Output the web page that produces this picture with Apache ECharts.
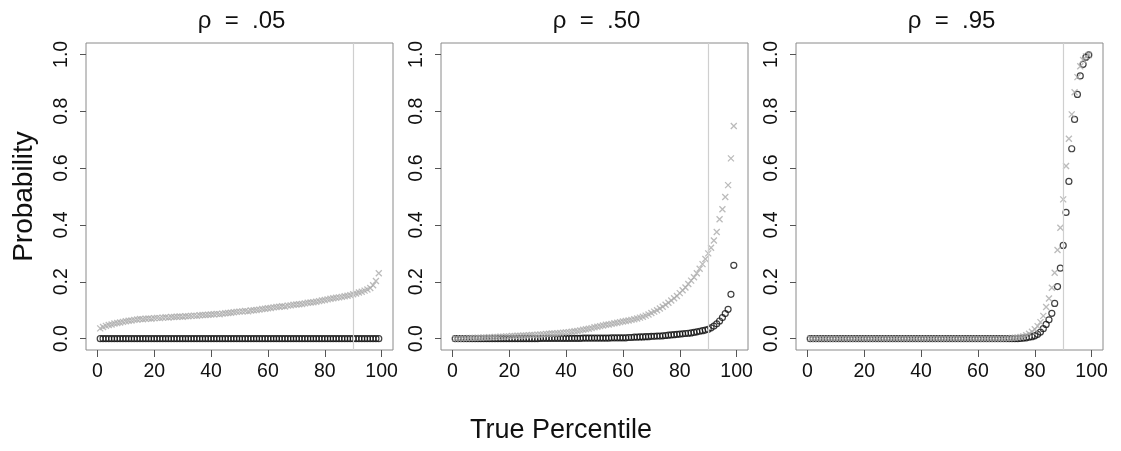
<!DOCTYPE html>
<html>
<head>
<meta charset="utf-8">
<script src="https://cdn.jsdelivr.net/npm/echarts@6/dist/echarts.min.js"></script>
<style>
  html, body { margin: 0; padding: 0; background: #fff; }
  #chart { width: 1121px; height: 451px; }
</style>
</head>
<body>
<div id="chart"></div>
<script>
// true percentile of each point
const percentile = [
  1,2,3,4,5,6,7,8,9,10,11,12,13,14,15,16,17,18,19,20,
  21,22,23,24,25,26,27,28,29,30,31,32,33,34,35,36,37,38,39,40,
  41,42,43,44,45,46,47,48,49,50,51,52,53,54,55,56,57,58,59,60,
  61,62,63,64,65,66,67,68,69,70,71,72,73,74,75,76,77,78,79,80,
  81,82,83,84,85,86,87,88,89,90,91,92,93,94,95,96,97,98,99
]
const panelTitles = ['ρ  =  .05', 'ρ  =  .50', 'ρ  =  .95']
const xTicks = [0, 20, 40, 60, 80, 100]
const yTicks = [0, 0.2, 0.4, 0.6, 0.8, 1.0]
const cutoff = 90

// gray crosses
const cross05 = [
  .036,.041,.045,.048,.050,.053,.055,.057,.059,.061,
  .063,.064,.066,.067,.069,.068,.070,.071,.070,.072,
  .073,.072,.074,.075,.074,.076,.076,.077,.078,.077,
  .079,.079,.080,.081,.080,.082,.083,.083,.084,.085,
  .086,.087,.086,.088,.089,.090,.091,.093,.094,.095,
  .096,.097,.096,.099,.100,.101,.102,.104,.105,.107,
  .108,.110,.111,.112,.114,.113,.116,.117,.119,.120,
  .121,.122,.124,.126,.127,.128,.130,.132,.134,.136,
  .138,.140,.142,.144,.145,.147,.149,.151,.153,.156,
  .159,.162,.165,.169,.173,.178,.188,.203,.230
]
const cross50 = [
  .000,.000,.001,.001,.001,.002,.002,.002,.003,.003,
  .004,.004,.005,.005,.006,.006,.007,.007,.008,.008,
  .009,.009,.010,.010,.011,.011,.012,.013,.013,.014,
  .015,.015,.016,.017,.018,.018,.019,.020,.021,.022,
  .023,.024,.026,.027,.029,.031,.033,.035,.037,.040,
  .042,.044,.046,.049,.050,.052,.054,.056,.058,.060,
  .062,.064,.066,.068,.071,.074,.077,.081,.085,.090,
  .095,.100,.106,.112,.119,.126,.134,.142,.150,.160,
  .170,.180,.192,.204,.216,.230,.246,.262,.280,.300,
  .320,.345,.375,.420,.455,.498,.540,.634,.748
]
const cross95 = [
  0,0,0,0,0,0,0,0,0,0,
  0,0,0,0,0,0,0,0,0,0,
  0,0,0,0,0,0,0,0,0,0,
  0,0,0,0,0,0,0,0,0,0,
  0,0,0,0,0,0,0,0,0,0,
  0,0,0,0,0,0,0,0,0,0,
  0,0,0,0,0,0,0,0,0,.001,
  .001,.002,.003,.004,.006,.008,.012,.017,.024,.033,
  .044,.058,.080,.111,.141,.179,.232,.312,.390,.490,
  .607,.703,.789,.867,.920,.958,.980,.993,.998
]

// black open circles
const circle05 = [
  0,0,0,0,0,0,0,0,0,0,
  0,0,0,0,0,0,0,0,0,0,
  0,0,0,0,0,0,0,0,0,0,
  0,0,0,0,0,0,0,0,0,0,
  0,0,0,0,0,0,0,0,0,0,
  0,0,0,0,0,0,0,0,0,0,
  0,0,0,0,0,0,0,0,0,0,
  0,0,0,0,0,0,0,0,0,0,
  0,0,0,0,0,0,0,0,0,0,
  0,0,0,0,0,0,0,0,0
]
const circle50 = [
  0,0,0,0,0,0,0,0,0,0,
  0,0,0,0,0,0,0,0,0,0,
  0,0,0,0,0,0,0,0,0,0,
  .001,.001,.001,.001,.001,.001,.001,.001,.001,.001,
  .001,.001,.001,.001,.001,.002,.002,.002,.002,.002,
  .002,.002,.002,.002,.002,.003,.003,.003,.003,.003,
  .003,.004,.004,.005,.005,.006,.006,.007,.007,.008,
  .008,.009,.009,.010,.011,.012,.013,.014,.015,.016,
  .017,.018,.019,.020,.022,.024,.026,.028,.030,.033,
  .038,.044,.052,.062,.074,.088,.103,.156,.258
]
const circle95 = [
  0,0,0,0,0,0,0,0,0,0,
  0,0,0,0,0,0,0,0,0,0,
  0,0,0,0,0,0,0,0,0,0,
  0,0,0,0,0,0,0,0,0,0,
  0,0,0,0,0,0,0,0,0,0,
  0,0,0,0,0,0,0,0,0,0,
  0,0,0,0,0,0,0,0,0,0,
  0,0,0,0,.001,.002,.003,.005,.007,.010,
  .015,.023,.035,.050,.066,.089,.124,.183,.248,.328,
  .444,.553,.668,.771,.859,.924,.965,.990,.998
]

const crossSets = [cross05, cross50, cross95]
const circleSets = [circle05, circle50, circle95]

const FONT = '"Liberation Sans", Arial, Helvetica, sans-serif'
const panelLefts = [86, 441, 796]
const panelW = 307

const chart = echarts.init(document.getElementById('chart'))

const grid = [], xAxis = [], yAxis = [], series = [], graphic = []

panelLefts.forEach((left, i) => {
  grid.push({ left, top: 43, width: panelW, height: 307, show: true, borderColor: '#8a8a8a', borderWidth: 1, backgroundColor: 'transparent' })
  xAxis.push({
    type: 'value', gridIndex: i, min: -4, max: 104,
    axisLine: { show: false, onZero: false },
    splitLine: { show: false },
    axisTick: { show: true, length: 7, lineStyle: { color: '#555' }, customValues: xTicks },
    axisLabel: { customValues: xTicks, fontSize: 19.5, color: '#111', fontFamily: FONT, margin: 12 },
  })
  yAxis.push({
    type: 'value', gridIndex: i, min: -0.04, max: 1.04,
    axisLine: { show: false, onZero: false },
    splitLine: { show: false },
    axisTick: { show: true, length: 6, lineStyle: { color: '#555' }, customValues: yTicks },
    axisLabel: { customValues: yTicks, rotate: 90, fontSize: 19.5, color: '#111', fontFamily: FONT, margin: 14, formatter: v => v.toFixed(1) },
    name: i === 0 ? 'Probability' : '',
    nameLocation: 'middle', nameRotate: 90, nameGap: 48,
    nameTextStyle: { fontSize: 28, color: '#111', fontFamily: FONT },
  })
  series.push({
    type: 'scatter', xAxisIndex: i, yAxisIndex: i,
    symbol: 'circle', symbolSize: 6,
    itemStyle: { color: 'transparent', borderColor: '#111', borderWidth: 1.2 },
    data: percentile.map((p, j) => [p, circleSets[i][j]]),
    markLine: {
      silent: true, symbol: 'none', label: { show: false },
      lineStyle: { color: '#cfcfcf', type: 'solid', width: 1.2 },
      data: [{ xAxis: cutoff }],
    },
    z: 2,
  })
  series.push({
    type: 'scatter', xAxisIndex: i, yAxisIndex: i,
    symbol: 'path://M0 0L10 10M10 0L0 10', symbolSize: 6,
    itemStyle: { color: 'transparent', borderColor: '#aaaaaa', borderWidth: 1.3 },
    data: percentile.map((p, j) => [p, crossSets[i][j]]),
    z: 3,
  })
  graphic.push({
    type: 'text', x: left + panelW / 2 + 2, y: 21,
    style: { text: panelTitles[i], align: 'center', verticalAlign: 'middle', fontSize: 24, fontFamily: FONT, fill: '#111' },
  })
})

graphic.push({
  type: 'text', x: 561, y: 431,
  style: { text: 'True Percentile', align: 'center', verticalAlign: 'middle', fontSize: 27, fontFamily: FONT, fill: '#111' },
})

chart.setOption({
  animation: false,
  grid, xAxis, yAxis, series, graphic,
})
</script>
</body>
</html>
